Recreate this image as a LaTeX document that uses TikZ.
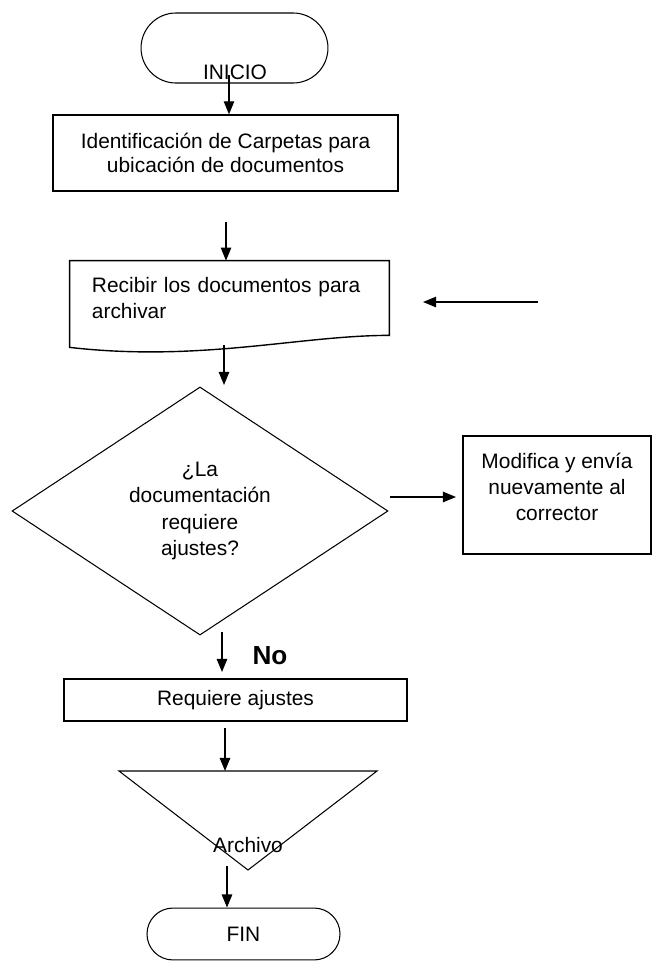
\documentclass[tikz,border=0pt]{standalone}
\usepackage{fontspec}
\setmainfont{Liberation Sans}
\usepackage{tikz}
\usetikzlibrary{
  shapes.geometric, shapes.misc,
  arrows.meta,
  positioning, calc
}
\tikzset{
  basebox/.style={rectangle,draw=black,line width=0.8pt,align=center,inner sep=0pt,font=\fontsize{12}{15}\selectfont},
  termnode/.style={rounded rectangle,draw=black,line width=0.6pt,inner sep=0pt,font=\fontsize{12}{15}\selectfont},
  procnode/.style={basebox,minimum width=198pt,minimum height=43.6pt,font=\fontsize{12}{13.5}\selectfont},
  docnode/.style={rectangle,align=left,inner sep=0pt,minimum width=183.1pt,minimum height=42.5pt,text width=157.9pt,font=\fontsize{12}{15}\selectfont},
  decnode/.style={diamond,draw=black,line width=0.6pt,aspect=1.516,inner sep=0pt,align=center,minimum width=215.8pt,minimum height=142.4pt,font=\fontsize{12}{15}\selectfont},
  sidebox/.style={basebox,minimum width=107.9pt,minimum height=67.7pt},
  txtnode/.style={align=center,inner sep=0pt,font=\fontsize{12}{15}\selectfont},
  docline/.style={line width=0.8pt,black,line join=miter},
  triline/.style={line width=0.6pt,black},
  arr/.style={-{Triangle[length=7.5pt,width=6pt]},line width=0.75pt,color=black}
}

\begin{document}
\begin{tikzpicture}[x=0.574pt,y=-0.574pt]
  \useasboundingbox (0,0) rectangle (653,961);

  \node[termnode,minimum width=107.3pt,minimum height=40.2pt] (inicio) at (234.5,48) {};
  \node[txtnode] (iniciotxt) at (235,72) {INICIO};
  \node[procnode] (ident) at (225.5,153) {Identificación de Carpetas para\\ubicación de documentos};
  \node[docnode] (recibir) at (229.5,298) {Recibir los documentos para\\archivar};
  \node[decnode] (pregunta) at (200,511) {¿La\\documentación\\requiere\\ajustes?};
  \node[sidebox] (modifica) at (557,495) {};
  \node[txtnode] (modificatxt) at (557,487) {Modifica y envía\\nuevamente al\\corrector};
  \node[font=\fontsize{15}{18}\selectfont\bfseries,inner sep=0pt] (nolbl) at (270,656) {No};
  \node[basebox,minimum width=196.9pt,minimum height=24.1pt] (requiere) at (235.5,700) {Requiere ajustes};
  \node[txtnode] (archivo) at (248,845) {Archivo};
  \node[termnode,minimum width=110.8pt,minimum height=29.8pt] (fin) at (243.5,934) {FIN};

  % document shape round the text
  \draw[docline] (recibir.north west) -- (recibir.north east) -- (recibir.south east)
      .. controls ($(recibir.south east)+(-89,0)$) and ($(recibir.south west)+(130,27)$)
      .. ($(recibir.south west)+(0,12)$) -- cycle;

  % archive triangle
  \coordinate (trileft) at (119,771);
  \coordinate (triright) at (377,771);
  \coordinate (triapex) at (248,870);
  \draw[triline] (trileft) -- (triright) -- (triapex) -- cycle;

  \coordinate (a1) at (229,75);
  \coordinate (a2) at (226,222);
  \coordinate (a3s) at (224,345);
  \coordinate (a3e) at (224,385);
  \coordinate (a4s) at (390,497);
  \coordinate (a4e) at (456,497);
  \coordinate (a5s) at (222,632);
  \coordinate (a5e) at (222,672);
  \coordinate (a6) at (225,728);
  \coordinate (a7) at (227,866);
  \coordinate (backs) at (538,302);
  \coordinate (backe) at (423,302);

  \draw[arr] (a1) -- (a1 |- ident.north);
  \draw[arr] (a2) -- (a2 |- recibir.north);
  \draw[arr] (backs) -- (backe);
  \draw[arr] (a3s) -- (a3e);
  \draw[arr] (a4s) -- (a4e);
  \draw[arr] (a5s) -- (a5e);
  \draw[arr] (a6) -- (a6 |- trileft);
  \draw[arr] (a7) -- (a7 |- fin.north);
\end{tikzpicture}
\end{document}
